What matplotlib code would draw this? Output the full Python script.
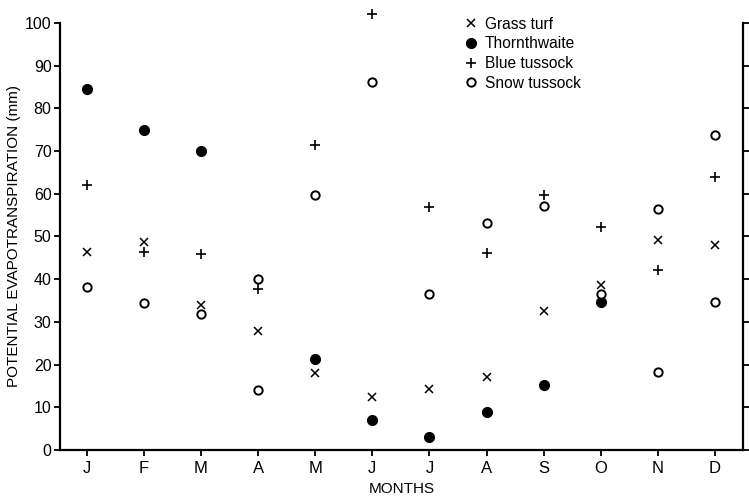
import numpy as np
import matplotlib.pyplot as plt

plt.rcParams.update({
    "font.family": ["Liberation Sans", "DejaVu Sans"],
    "font.size": 11,
    "axes.linewidth": 1.6,
})

# Dados (mm)
meses = ["J", "F", "M", "A", "M", "J", "J", "A", "S", "O", "N", "D"]
grass_turf = [46.3, 48.8, 33.9, 27.9, 18.1, 12.5, 14.3, 17.0, 32.5, 38.6, 49.1, 48.1]
thornthwaite = [84.5, 75.0, 70.0, np.nan, 21.4, 7.0, 3.1, 8.9, 15.2, 34.7, np.nan, np.nan]
blue_tussock = [62.0, 46.3, 46.0, 37.7, 71.3, 102.0, 57.0, 46.2, 59.7, 52.2, 42.1, 63.9]
snow_tussock = [38.2, 34.4, 31.9, 40.1, 59.6, 86.1, 36.6, 53.1, 57.2, 36.6, 56.5, 73.8]
# segundo valor de snow tussock em alguns meses
snow_extra_idx = [3, 10, 11]
snow_extra = [14.0, 18.3, 34.7]

x = np.arange(len(meses))

fig = plt.figure(figsize=(7.49, 4.98), dpi=100)
ax = fig.add_axes([0.080, 0.0964, 0.912, 0.8576])

kw = dict(linestyle="none", color="black", clip_on=False)
ax.plot(x, grass_turf, marker="x", markersize=5.5, markeredgewidth=1.1, label="Grass turf", **kw)
ax.plot(x, thornthwaite, marker="o", markersize=7, label="Thornthwaite", **kw)
ax.plot(x, blue_tussock, marker="+", markersize=6.5, markeredgewidth=1.2, label="Blue tussock", **kw)
ax.plot(x, snow_tussock, marker="o", markersize=6, markerfacecolor="white",
        markeredgewidth=1.4, label="Snow tussock", **kw)
ax.plot(snow_extra_idx, snow_extra, marker="o", markersize=6, markerfacecolor="white",
        markeredgewidth=1.4, **kw)

ax.set_xlim(-0.47, 11.49)
ax.set_ylim(0, 100)
ax.set_xticks(x)
ax.set_xticklabels(meses, fontsize=12)
ax.set_yticks(np.arange(0, 101, 10))
ax.tick_params(direction="out", length=4, width=1.3, pad=2)
ax.tick_params(axis="x", pad=4)
ax.tick_params(axis="y", right=True, labelright=False, labelsize=11.5)
ax.spines["top"].set_visible(False)

ax.set_xlabel("MONTHS", fontsize=11, labelpad=4.5)
ax.set_ylabel("POTENTIAL EVAPOTRANSPIRATION (mm)", fontsize=11, labelpad=3)

ax.legend(loc="upper left", bbox_to_anchor=(0.584, 1.029), frameon=False,
          handlelength=0.8, handletextpad=0.45, labelspacing=0.3, fontsize=11.2,
          borderaxespad=0)

fig.savefig("out.png", dpi=100)
